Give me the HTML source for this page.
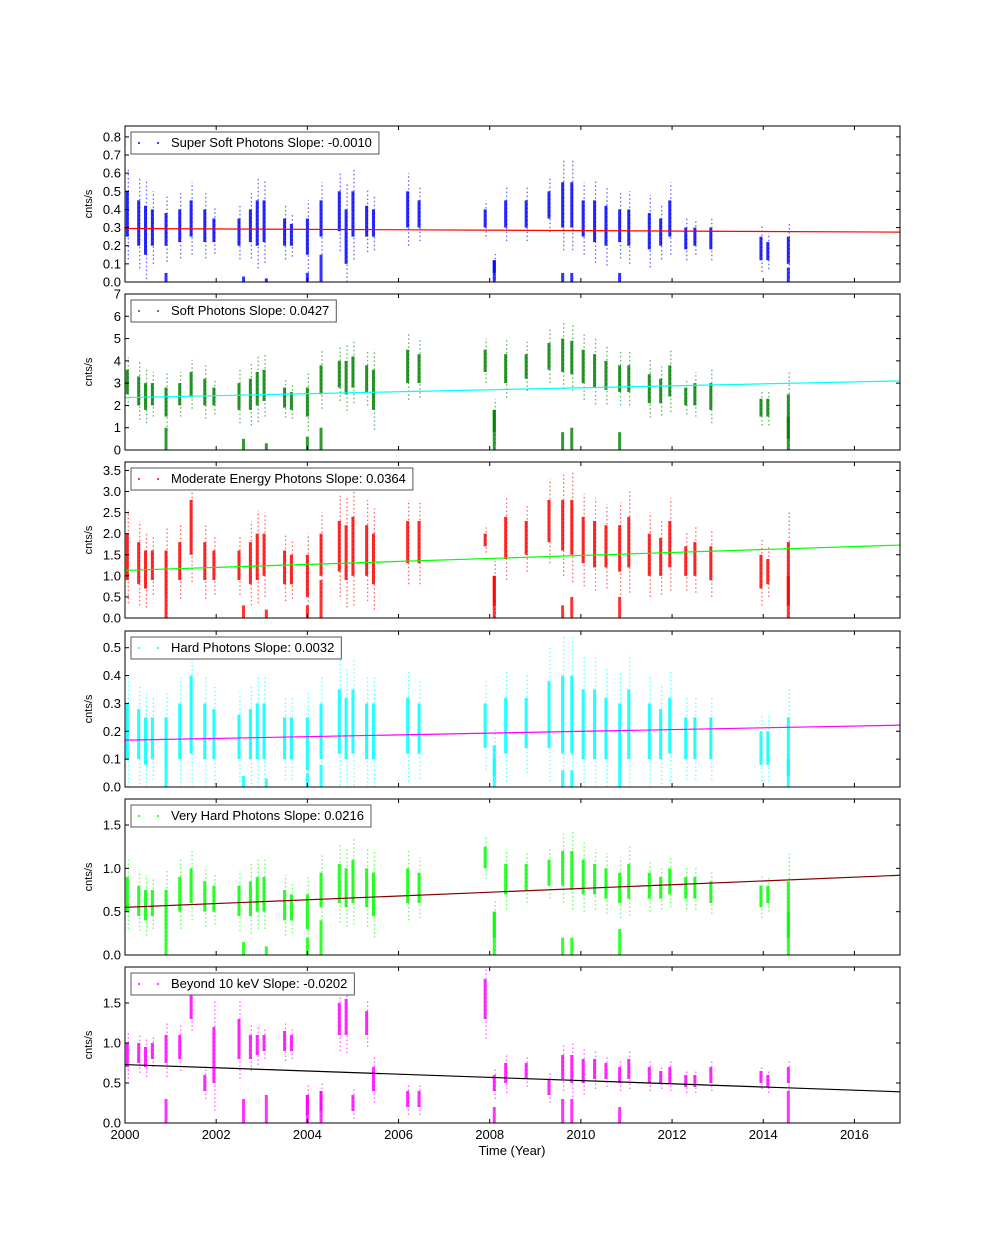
<!DOCTYPE html>
<html><head><meta charset="utf-8"><style>
html,body{margin:0;padding:0;background:#fff;}
svg text{font-family:"Liberation Sans",sans-serif;}
</style></head><body>
<svg id="chart" width="1000" height="1248" xmlns="http://www.w3.org/2000/svg"></svg>
<script>
// ---- data ----
const times = [2000.05,2000.3,2000.45,2000.6,2000.9,2001.2,2001.45,2001.75,2001.95,2002.5,2002.75,2002.9,2003.05,2003.5,2003.65,2004.0,2004.3,2004.7,2004.85,2005.0,2005.3,2005.45,2006.2,2006.45,2007.9,2008.1,2008.35,2008.8,2009.3,2009.6,2009.8,2010.05,2010.3,2010.55,2010.85,2011.05,2011.5,2011.75,2011.95,2012.3,2012.5,2012.85,2013.95,2014.1,2014.55];
const panelNames = ["Super Soft Photons","Soft Photons","Moderate Energy Photons","Hard Photons","Very Hard Photons","Beyond 10 keV"];
const slopes = ["-0.0010","0.0427","0.0364","0.0032","0.0216","-0.0202"];
const yMax = [0.86,7,3.7,0.56,1.8,1.95];
const yTicks = [[0,0.1,0.2,0.3,0.4,0.5,0.6,0.7,0.8],[0,1,2,3,4,5,6,7],[0,0.5,1,1.5,2,2.5,3,3.5],[0,0.1,0.2,0.3,0.4,0.5],[0,0.5,1,1.5],[0,0.5,1,1.5]];
const tickFmt = [1,0,1,1,1,1];
const fitStart = [0.295,2.35,1.13,0.168,0.55,0.73];
const fitEnd = [0.275,3.1,1.73,0.222,0.92,0.39];
const ssLo = [.25,.2,.15,.2,.2,.22,.25,.22,.22,.2,.22,.2,.22,.2,.2,.15,.25,.28,.1,.25,.25,.25,.3,.3,.3,.05,.3,.3,.35,.3,.3,.25,.22,.2,.22,.2,.18,.2,.25,.18,.2,.18,.12,.12,.1];
const ssHi = [.5,.45,.42,.4,.38,.4,.45,.4,.35,.35,.4,.45,.45,.35,.32,.35,.45,.5,.4,.5,.42,.4,.5,.45,.4,.12,.45,.45,.5,.55,.55,.45,.45,.42,.4,.4,.38,.35,.45,.3,.3,.3,.25,.22,.25];
const soLo = [2.5,2.0,1.8,2.0,1.5,2.0,2.4,2.0,2.0,1.8,1.8,2.0,2.2,1.9,1.8,1.5,2.5,2.8,2.5,2.8,2.6,1.8,3.0,3.0,3.5,0.8,3.0,3.2,3.6,3.5,3.4,3.0,2.8,2.7,2.6,2.6,2.1,2.1,2.4,2.0,2.0,1.8,1.5,1.5,0.5];
const soHi = [3.6,3.3,3.0,3.0,2.8,3.0,3.5,3.2,2.8,3.0,3.2,3.5,3.6,2.8,2.6,2.8,3.8,4.0,4.0,4.2,3.8,3.6,4.5,4.3,4.5,1.8,4.3,4.3,4.8,5.0,4.9,4.5,4.3,4.0,3.8,3.8,3.4,3.2,3.8,2.8,3.0,3.0,2.3,2.3,2.5];
const moLo = [0.9,0.8,0.7,0.9,0.5,0.9,1.5,0.9,0.9,0.9,0.8,0.9,1.0,0.8,0.8,0.5,1.0,1.1,0.9,1.0,1.0,0.8,1.3,1.3,1.7,0.3,1.4,1.5,1.8,1.6,1.5,1.3,1.2,1.2,1.1,1.2,1.0,1.0,1.2,1.0,1.0,0.9,0.7,0.8,0.3];
const moHi = [2.0,1.8,1.6,1.6,1.6,1.8,2.8,1.8,1.6,1.6,1.8,2.0,2.0,1.6,1.5,1.5,2.0,2.3,2.2,2.4,2.2,2.0,2.3,2.3,2.0,1.0,2.4,2.3,2.8,2.8,2.8,2.4,2.3,2.2,2.2,2.4,2.0,1.9,2.3,1.7,1.8,1.7,1.5,1.4,1.8];
const hdLo = [0.1,0.1,0.08,0.1,0.06,0.1,0.12,0.1,0.1,0.1,0.1,0.1,0.1,0.1,0.1,0.06,0.1,0.12,0.1,0.12,0.1,0.1,0.12,0.12,0.14,0.04,0.12,0.14,0.14,0.12,0.12,0.1,0.1,0.1,0.08,0.1,0.1,0.1,0.12,0.1,0.1,0.1,0.08,0.08,0.04];
const hdHi = [0.3,0.28,0.25,0.25,0.25,0.3,0.4,0.3,0.28,0.26,0.28,0.3,0.3,0.25,0.25,0.25,0.3,0.35,0.32,0.35,0.3,0.3,0.32,0.3,0.3,0.15,0.32,0.32,0.38,0.4,0.4,0.35,0.35,0.32,0.3,0.35,0.3,0.28,0.32,0.25,0.25,0.25,0.2,0.2,0.25];
const vhLo = [0.5,0.45,0.4,0.45,0.3,0.5,0.6,0.5,0.5,0.45,0.45,0.5,0.5,0.4,0.4,0.3,0.55,0.6,0.55,0.6,0.55,0.45,0.6,0.6,1.0,0.2,0.7,0.75,0.8,0.8,0.75,0.7,0.7,0.65,0.6,0.65,0.65,0.65,0.7,0.65,0.65,0.6,0.55,0.6,0.2];
const vhHi = [0.9,0.8,0.75,0.75,0.75,0.9,1.0,0.85,0.8,0.8,0.85,0.9,0.9,0.75,0.7,0.7,0.95,1.05,1.0,1.1,1.0,0.95,1.0,0.95,1.25,0.5,1.05,1.05,1.1,1.2,1.2,1.1,1.05,1.0,0.95,1.05,0.95,0.9,1.0,0.9,0.9,0.85,0.8,0.8,0.85];
const bkLo = [0.7,0.75,0.7,0.8,0.75,0.8,1.3,0.4,0.5,0.8,0.8,0.85,0.9,0.9,0.9,0.1,0.15,1.1,1.1,0.15,1.1,0.4,0.2,0.2,1.3,0.4,0.5,0.55,0.35,0.55,0.5,0.5,0.55,0.55,0.5,0.55,0.5,0.5,0.5,0.45,0.45,0.5,0.5,0.45,0.5];
const bkHi = [1.0,1.0,0.95,1.0,1.1,1.1,1.6,0.6,1.2,1.3,1.1,1.1,1.1,1.15,1.1,0.35,0.4,1.5,1.55,0.35,1.4,0.7,0.4,0.4,1.8,0.6,0.75,0.75,0.55,0.85,0.85,0.8,0.8,0.75,0.7,0.8,0.7,0.65,0.7,0.6,0.6,0.7,0.65,0.6,0.7];
const dipTimes = [2000.9,2004.0,2004.3,2008.1,2009.6,2009.8,2010.85,2014.55,2002.6,2003.1];
const ssDip = [.05,.05,.15,.12,.05,.05,.05,.08,.03,.02];
const soDip = [1.0,0.6,1.0,1.8,0.8,1.0,0.8,1.5,0.5,0.3];
const moDip = [0.5,0.3,0.9,1.0,0.3,0.5,0.5,1.0,0.3,0.2];
const hdDip = [0.06,0.05,0.08,0.1,0.06,0.06,0.08,0.1,0.04,0.03];
const vhDip = [0.3,0.2,0.4,0.5,0.2,0.2,0.3,0.5,0.15,0.1];
const bkDip = [0.3,0.35,0.4,0.2,0.3,0.3,0.2,0.4,0.3,0.35];
const los = [ssLo,soLo,moLo,hdLo,vhLo,bkLo];
const his = [ssHi,soHi,moHi,hdHi,vhHi,bkHi];
const dips = [ssDip,soDip,moDip,hdDip,vhDip,bkDip];
const ptColor = ["#0000ff","#008000","#ff0000","#00ffff","#00ff00","#ff00ff"];
const fitColor = ["#ff0000","#00ffff","#00ff00","#ff00ff","#800000","#000000"];

// ---- layout ----
const NS="http://www.w3.org/2000/svg";
const svg=document.getElementById('chart');
const L=125,R=900,X0=2000,X1=2017;
const tops=[126,294,462,631,799,967], H=156;
function xs(t){return L+(t-X0)/(X1-X0)*(R-L);}
function mk(tag,attrs,parent){const e=document.createElementNS(NS,tag);for(const k in attrs)e.setAttribute(k,attrs[k]);(parent||svg).appendChild(e);return e;}

for(let p=0;p<6;p++){
  const top=tops[p], bot=top+H;
  const ys=v=>bot-v/yMax[p]*H;
  const g=mk('g',{});
  
  
  const clipId='clip'+p;
  const cp=mk('clipPath',{id:clipId},g); mk('rect',{x:L,y:top,width:R-L,height:H},cp);
  const marks=mk('g',{'clip-path':'url(#'+clipId+')'},g);
  for(let i=0;i<times.length;i++){
    const x=xs(times[i]), lo=los[p][i], hi=his[p][i], ext=(hi-lo)*0.5;
    const tail=mk('line',{x1:x+1,x2:x+1,y1:ys(Math.max(0,lo-ext)),y2:ys(hi+ext),stroke:ptColor[p],'stroke-width':1.3,'stroke-dasharray':'1.5 2.5',opacity:0.6},marks);
    
    
    const r=mk('rect',{x:x-1.5,y:ys(hi),width:3,height:Math.max(1,ys(lo)-ys(hi)),fill:ptColor[p],opacity:0.85},marks);
    
    
  }
  for(let i=0;i<dipTimes.length;i++){
    const x=xs(dipTimes[i]), hi=dips[p][i];
    const d=mk('rect',{x:x-1.5,y:ys(hi),width:3,height:Math.max(1,ys(0)-ys(hi)),fill:ptColor[p],opacity:0.8},marks);
    
    
  }
  const fl=mk('line',{x1:L,x2:R,y1:ys(fitStart[p]),y2:ys(fitEnd[p]),stroke:fitColor[p],'stroke-width':1.2},marks);
  
  
  const fr=mk('rect',{x:L,y:top,width:R-L,height:H,fill:'none',stroke:'#000','stroke-width':1},g);
  
  
  yTicks[p].forEach(v=>{
    const y=ys(v);
    mk('line',{x1:L,x2:L+4,y1:y,y2:y,stroke:'#000'},g);
    mk('line',{x1:R,x2:R-4,y1:y,y2:y,stroke:'#000'},g);
    const t=mk('text',{x:L-4,y:y+4.5,'text-anchor':'end','font-size':13},g);
    t.textContent=v.toFixed(tickFmt[p]);
    
    
  });
  for(let yr=2000;yr<=2016;yr+=2){
    const x=xs(yr);
    mk('line',{x1:x,x2:x,y1:bot,y2:bot-4,stroke:'#000'},g);
    mk('line',{x1:x,x2:x,y1:top,y2:top+4,stroke:'#000'},g);
    if(p===5){const t=mk('text',{x:x,y:bot+16,'text-anchor':'middle','font-size':13},g);t.textContent=yr;
      
      }
  }
  const yl=mk('text',{x:0,y:0,'text-anchor':'middle','font-size':11,transform:'translate(92,'+(top+H/2)+') rotate(-90)'},g);
  yl.textContent='cnts/s';
  
  
  const label=panelNames[p]+' Slope: '+slopes[p];
  const lg=mk('g',{},g);
  
  
  const lt=mk('text',{x:171,y:top+21,'font-size':13},lg); lt.textContent=label;
  const w=lt.getComputedTextLength();
  mk('rect',{x:131,y:top+6,width:171+w+7-131,height:22,fill:'#fff',stroke:'#555','stroke-width':1},lg);
  lg.appendChild(lt);
  mk('circle',{cx:139,cy:top+17,r:1,fill:ptColor[p]},lg);
  mk('circle',{cx:158,cy:top+17,r:1,fill:ptColor[p]},lg);
}
const xt=mk('text',{x:512,y:1155,'text-anchor':'middle','font-size':13});
xt.textContent='Time (Year)';


</script>
</body></html>
